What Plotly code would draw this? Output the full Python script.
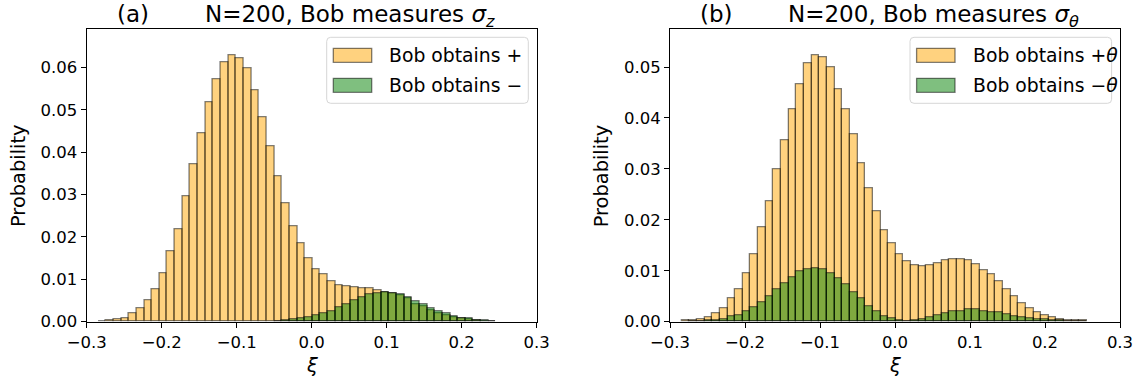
import numpy as np
import plotly.graph_objects as go

W, H = 1143, 385

# ---------------- data ----------------
bin_start = -0.2845
bin_width = 0.0102

left_plus = [0.0002, 0.0003, 0.0005, 0.0009, 0.0020, 0.0032, 0.0051, 0.0076, 0.0114, 0.0165,
             0.0219, 0.0295, 0.0371, 0.0444, 0.0518, 0.0572, 0.0613, 0.0629, 0.0622, 0.0597,
             0.0546, 0.0482, 0.0413, 0.0344, 0.0279, 0.0226, 0.0185, 0.0149, 0.0123, 0.0112,
             0.0096, 0.0087, 0.0083, 0.0082, 0.0079, 0.0078, 0.0074, 0.0070, 0.0066, 0.0062,
             0.0055, 0.0042, 0.0036, 0.0028, 0.0021, 0.0016, 0.0010, 0.0007, 0.0005, 0.0003,
             0.0002, 0.0001]
left_minus = [None] * 23 + [0.0002, 0.0003, 0.0005, 0.0007, 0.0010, 0.0016, 0.0020, 0.0025,
             0.0034, 0.0042, 0.0050, 0.0057, 0.0065, 0.0068, 0.0069, 0.0068, 0.0064, 0.0058,
             0.0047, 0.0042, 0.0032, 0.0025, 0.0020, 0.0013, 0.0009, 0.0007, 0.0004, 0.0003,
             0.0002]

right_plus = [0.0002, 0.0003, 0.0005, 0.0009, 0.0016, 0.0026, 0.0045, 0.0064, 0.0095, 0.0132,
              0.0185, 0.0237, 0.0299, 0.0356, 0.0417, 0.0467, 0.0507, 0.0523, 0.0520, 0.0499,
              0.0456, 0.0417, 0.0367, 0.0311, 0.0262, 0.0217, 0.0180, 0.0154, 0.0132, 0.0119,
              0.0111, 0.0108, 0.0111, 0.0115, 0.0120, 0.0122, 0.0122, 0.0120, 0.0113, 0.0101,
              0.0093, 0.0080, 0.0064, 0.0050, 0.0037, 0.0027, 0.0018, 0.0012, 0.0009, 0.0005,
              0.0003, 0.0003, 0.0002]
right_minus = [None, 0.0001, 0.0001, 0.0002, 0.0003, 0.0005, 0.0010, 0.0013, 0.0020, 0.0029,
               0.0039, 0.0050, 0.0064, 0.0076, 0.0087, 0.0098, 0.0103, 0.0105, 0.0103, 0.0095,
               0.0085, 0.0074, 0.0058, 0.0046, 0.0031, 0.0021, 0.0011, 0.0006, 0.0003, 0.0001,
               0.0003, 0.0005, 0.0009, 0.0013, 0.0016, 0.0021, 0.0021, 0.0024, 0.0024, 0.0021,
               0.0019, 0.0019, 0.0014, 0.0011, 0.0009, 0.0007, 0.0005, 0.0004, 0.0003, 0.0002,
               0.0001, 0.0001, 0.0001]

x_tickvals = [-0.3, -0.2, -0.1, 0.0, 0.1, 0.2, 0.3]
x_ticktext = ["\u22120.3", "\u22120.2", "\u22120.1", "0.0", "0.1", "0.2", "0.3"]
y_tickvals_left = [0.00, 0.01, 0.02, 0.03, 0.04, 0.05, 0.06]
y_tickvals_right = [0.00, 0.01, 0.02, 0.03, 0.04, 0.05]

titles = ["N=200, Bob measures <i>σ</i><sub><i>z</i></sub>",
          "N=200, Bob measures <i>σ</i><sub><i>θ</i></sub>"]
panel_tags = ["(a)", "(b)"]
legend_labels = [["Bob obtains +", "Bob obtains \u2212"],
                 ["Bob obtains +<i>θ</i>", "Bob obtains \u2212<i>θ</i>"]]

# ---------------- style ----------------
FONT = "DejaVu Sans"
ORANGE = "rgba(255,165,0,0.5)"
GREEN = "rgba(0,128,0,0.5)"
EDGE = "rgba(0,0,0,0.5)"


def centers(n):
    return [bin_start + bin_width * (i + 0.5) for i in range(n)]


def px(x):
    return x / W


def py(y):
    return 1 - y / H


fig = go.Figure()
panels = [(left_plus, left_minus, "x", "y"), (right_plus, right_minus, "x2", "y2")]
for plus, minus, xa, ya in panels:
    for vals, col in ((plus, ORANGE), (minus, GREEN)):
        fig.add_trace(go.Bar(
            x=centers(len(vals)), y=vals, width=bin_width,
            marker=dict(color=col, line=dict(color=EDGE, width=1.3)),
            xaxis=xa, yaxis=ya, showlegend=False, hoverinfo="skip"))

# axes geometry (pixels)
ax_left = [86.7, 670.0]
ax_w = 450.0
ax_top, ax_bot = 29.3, 321.7

common_x = dict(range=[-0.3, 0.3], tickvals=x_tickvals, ticktext=x_ticktext,
                ticks="outside", ticklen=5, tickwidth=1.1, tickcolor="black",
                showline=True, linecolor="black", linewidth=1.1, mirror=True,
                showgrid=False, zeroline=False, automargin=False,
                tickfont=dict(family=FONT, size=16.5, color="black"))
common_y = dict(ticks="outside", ticklen=5, tickwidth=1.1, tickcolor="black",
                showline=True, linecolor="black", linewidth=1.1, mirror=True,
                showgrid=False, zeroline=False, tickformat=".2f", automargin=False,
                tickfont=dict(family=FONT, size=16.5, color="black"))

fig.update_layout(
    width=W, height=H, autosize=False,
    margin=dict(l=0, r=0, t=0, b=0, pad=0),
    paper_bgcolor="white", plot_bgcolor="white",
    barmode="overlay", bargap=0,
    xaxis=dict(domain=[px(ax_left[0]), px(ax_left[0] + ax_w)], anchor="y", **common_x),
    yaxis=dict(domain=[py(ax_bot), py(ax_top)], anchor="x", range=[0, 0.0690],
               tickvals=y_tickvals_left, **common_y),
    xaxis2=dict(domain=[px(ax_left[1]), px(ax_left[1] + ax_w)], anchor="y2", **common_x),
    yaxis2=dict(domain=[py(ax_bot), py(ax_top)], anchor="x2", range=[0, 0.0574],
                tickvals=y_tickvals_right, **common_y),
)

annotations = []
shapes = []
for k in range(2):
    L = ax_left[k]
    # titles
    annotations.append(dict(text=panel_tags[k], x=px(L + 29.3), y=1.0, xref="paper", yref="paper",
                            xanchor="left", yanchor="top", showarrow=False, borderpad=0,
                            font=dict(family=FONT, size=23, color="black")))
    annotations.append(dict(text=titles[k], x=px(L + 116.9), y=1.0, xref="paper", yref="paper",
                            xanchor="left", yanchor="top", showarrow=False, borderpad=0,
                            font=dict(family=FONT, size=23, color="black")))
    # axis labels
    annotations.append(dict(text="Probability", x=px(L - 68.2), y=py((ax_top + ax_bot) / 2),
                            xref="paper", yref="paper", xanchor="center", yanchor="middle",
                            textangle=-90, showarrow=False,
                            font=dict(family=FONT, size=19.4, color="black")))
    annotations.append(dict(text="<i>ξ</i>", x=px(L + ax_w / 2), y=py(365), xref="paper", yref="paper",
                            xanchor="center", yanchor="middle", showarrow=False,
                            font=dict(family=FONT, size=19.4, color="black")))
    # legend box
    bx0, bx1, by0, by1 = L + 240.0, L + 441.6, 37.3, 103.3
    r = 4.0
    pts = (f"M {px(bx0 + r)},{py(by0)} L {px(bx1 - r)},{py(by0)} "
           f"Q {px(bx1)},{py(by0)} {px(bx1)},{py(by0 + r)} "
           f"L {px(bx1)},{py(by1 - r)} Q {px(bx1)},{py(by1)} {px(bx1 - r)},{py(by1)} "
           f"L {px(bx0 + r)},{py(by1)} Q {px(bx0)},{py(by1)} {px(bx0)},{py(by1 - r)} "
           f"L {px(bx0)},{py(by0 + r)} Q {px(bx0)},{py(by0)} {px(bx0 + r)},{py(by0)} Z")
    shapes.append(dict(type="path", path=pts, xref="paper", yref="paper",
                       fillcolor="rgba(255,255,255,0.8)", line=dict(color="#d6d6d6", width=1)))
    for j, (col, yc) in enumerate(((ORANGE, 55.3), (GREEN, 85.3))):
        shapes.append(dict(type="rect", xref="paper", yref="paper",
                           x0=px(bx0 + 6.6), x1=px(bx0 + 45.0), y0=py(yc - 7), y1=py(yc + 7),
                           fillcolor=col, line=dict(color=EDGE, width=1.3)))
        annotations.append(dict(text=legend_labels[k][j], x=px(bx0 + 60.6), y=py(yc),
                                xref="paper", yref="paper", xanchor="left", yanchor="middle",
                                showarrow=False, font=dict(family=FONT, size=18.8, color="black")))

fig.update_layout(annotations=annotations, shapes=shapes)
fig.write_html("out.html")
